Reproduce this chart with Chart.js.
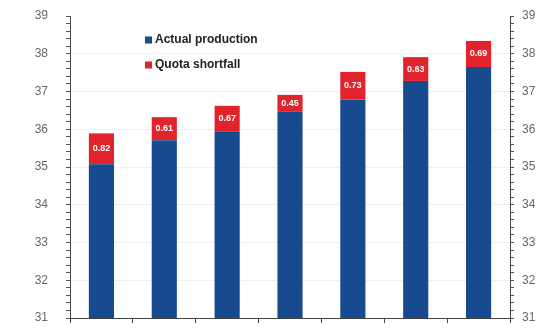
<!DOCTYPE html>
<html>
<head>
<meta charset="utf-8">
<script src="https://cdn.jsdelivr.net/npm/chart.js@4"></script>
<style>
html,body{margin:0;padding:0;background:#fff;}
#wrap{width:545px;height:330px;position:relative;}
</style>
</head>
<body>
<div id="wrap"><canvas id="c" width="545" height="330"></canvas></div>
<script>
const categories = ['1','2','3','4','5','6','7'];
const actualProduction = [35.07, 35.71, 35.95, 36.46, 36.79, 37.28, 37.65];
const quotaShortfall = [0.82, 0.61, 0.67, 0.45, 0.73, 0.63, 0.69];
const shortfallLabels = ['0.82', '0.61', '0.67', '0.45', '0.73', '0.63', '0.69'];
const yTickLabels = [31, 32, 33, 34, 35, 36, 37, 38, 39];
const seriesNames = ['Actual production', 'Quota shortfall'];

const BLUE = '#184a90';
const RED = '#e1232b';
const FONT = "'Liberation Sans', Arial, sans-serif";

const isMajor = v => yTickLabels.some(t => Math.abs(t - v) < 1e-6);

const segLabels = {
  id: 'segLabels',
  afterDatasetsDraw(chart) {
    const ctx = chart.ctx;
    const meta = chart.getDatasetMeta(1);
    ctx.save();
    ctx.fillStyle = '#ffffff';
    ctx.font = "bold 9px " + FONT;
    ctx.textAlign = 'center';
    ctx.textBaseline = 'middle';
    meta.data.forEach((el, i) => {
      const y = (el.y + el.base) / 2;
      ctx.fillText(shortfallLabels[i], el.x, y);
    });
    ctx.restore();
  }
};

const customLegend = {
  id: 'customLegend',
  afterDraw(chart) {
    const ctx = chart.ctx;
    const a = chart.chartArea;
    const x0 = a.left + 75;
    const rows = [[seriesNames[0], BLUE, a.top + 24], [seriesNames[1], RED, a.top + 49]];
    ctx.save();
    ctx.font = "bold 12px " + FONT;
    ctx.textBaseline = 'middle';
    rows.forEach(r => {
      ctx.fillStyle = r[1];
      ctx.fillRect(x0, r[2] - 3.5, 7, 7);
      ctx.fillStyle = '#222';
      ctx.fillText(r[0], x0 + 10, r[2]);
    });
    ctx.restore();
  }
};

const yCommon = {
  stacked: true,
  min: 31,
  max: 39,
  afterBuildTicks(scale) {
    const t = [];
    for (let i = 0; i <= 40; i++) t.push({ value: Math.round((31 + i * 0.2) * 10) / 10 });
    scale.ticks = t;
  },
  ticks: {
    autoSkip: false,
    color: '#666',
    font: { family: FONT, size: 12 },
    callback: (v) => isMajor(v) ? String(Math.round(v)) : ''
  },
  border: { display: true, color: '#444', width: 1 }
};

new Chart(document.getElementById('c'), {
  type: 'bar',
  data: {
    labels: categories,
    datasets: [
      { label: seriesNames[0], data: actualProduction, backgroundColor: BLUE, barPercentage: 0.4, categoryPercentage: 1.0, yAxisID: 'y' },
      { label: seriesNames[1], data: quotaShortfall, backgroundColor: RED, barPercentage: 0.4, categoryPercentage: 1.0, yAxisID: 'y' }
    ]
  },
  options: {
    responsive: false,
    animation: false,
    layout: { padding: { top: 16, left: 0, right: 0, bottom: 0 } },
    plugins: { legend: { display: false }, tooltip: { enabled: false } },
    scales: {
      x: {
        stacked: true,
        offset: true,
        grid: { offset: true, drawOnChartArea: false, drawTicks: true, tickLength: 5, color: '#444' },
        ticks: { display: false },
        border: { display: true, color: '#444', width: 1 },
        afterFit(s) { s.height = 12; }
      },
      y: Object.assign({}, yCommon, {
        position: 'left',
        ticks: Object.assign({}, yCommon.ticks, { padding: 18 }),
        grid: {
          drawTicks: true,
          tickLength: 4,
          color: (c) => (c.tick && isMajor(c.tick.value) && c.tick.value !== 31 && c.tick.value !== 39) ? '#f0f0f0' : 'rgba(0,0,0,0)',
          tickColor: '#555'
        },
        afterFit(s) { s.width = 70; s.paddingTop = 6; s.paddingBottom = 6; }
      }),
      y2: Object.assign({}, yCommon, {
        position: 'right',
        ticks: Object.assign({}, yCommon.ticks, { padding: 8 }),
        grid: { drawOnChartArea: false, drawTicks: true, tickLength: 4, tickColor: '#555' },
        afterFit(s) { s.width = 35; s.paddingTop = 6; s.paddingBottom = 6; }
      })
    }
  },
  plugins: [segLabels, customLegend]
});
</script>
</body>
</html>
